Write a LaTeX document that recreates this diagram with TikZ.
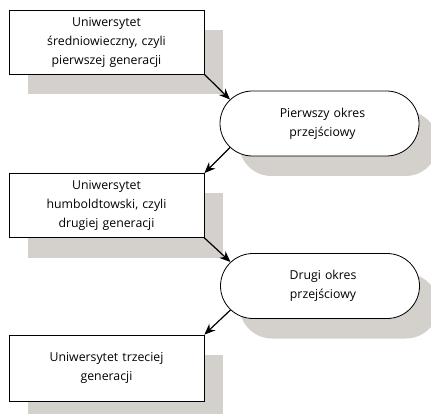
\documentclass[tikz,border=0pt]{standalone}
\usepackage{fontspec}
\setmainfont{Open Sans}
\usetikzlibrary{shapes.misc,shadows,arrows.meta}
\definecolor{shadegray}{RGB}{212,208,204}
\begin{document}
\begin{tikzpicture}[x=1pt,y=-1pt,
  every node/.style={font=\fontsize{12.3}{19}\selectfont, align=center, text width=185pt},
  castshadow/.style={general shadow={fill=shadegray, shadow xshift=19pt, shadow yshift=-20pt}},
  stagebox/.style={draw, line width=0.8pt, fill=white, minimum width=195pt, minimum height=64pt, inner sep=0pt, castshadow},
  period/.style={rounded rectangle, draw, line width=0.8pt, fill=white, minimum width=199pt, minimum height=65pt, inner sep=0pt, castshadow},
  flow/.style={line width=1.2pt, -{Stealth[length=11pt, width=9pt]}}]
\useasboundingbox (0,0) rectangle (431,414);
\clip (0,0) rectangle (431,414);

% stages and transition periods
\node[stagebox] (u1) at (106.5,42) {Uniwersytet\\ średniowieczny, czyli\\ pierwszej generacji};
\node[period] (p1) at (319.5,123.5) {\hspace*{6pt}Pierwszy okres\\ \hspace*{6pt}przejściowy};
\node[stagebox] (u2) at (106.5,205.5) {Uniwersytet\\ humboldtowski, czyli\\ drugiej generacji};
\node[period] (p2) at (320,286) {\hspace*{6pt}Drugi okres\\ \hspace*{6pt}przejściowy};
\node[stagebox, minimum height=66pt] (u3) at (106.5,368) {Uniwersytet trzeciej\\ generacji};

% sequence arrows
\draw[flow] (u1.south east) -- (p1.165);
\draw[flow] (p1.195) -- (u2.north east);
\draw[flow] (u2.south east) -- (p2.165);
\draw[flow] (p2.195) -- (u3.north east);
\end{tikzpicture}
\end{document}
